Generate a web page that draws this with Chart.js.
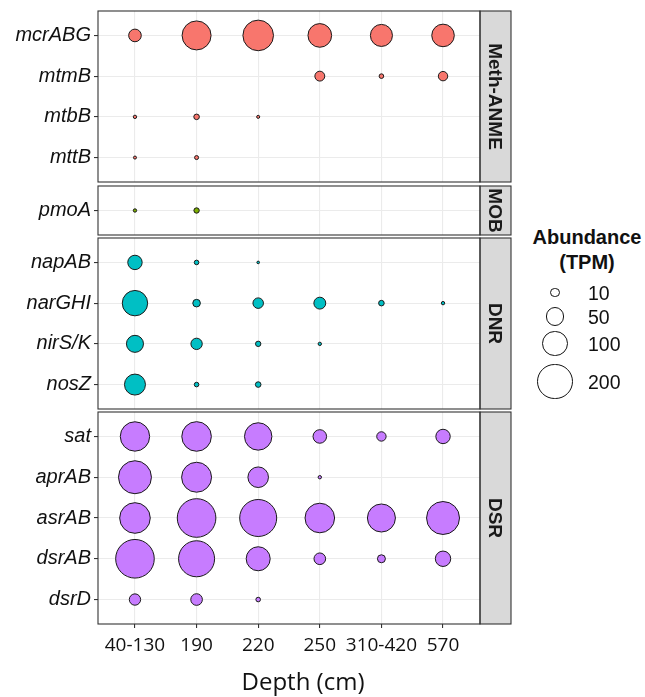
<!DOCTYPE html>
<html><head><meta charset="utf-8">
<script src="https://cdn.jsdelivr.net/npm/chart.js@4"></script>
<style>
html,body{margin:0;padding:0;background:#fff;}
#wrap{position:relative;width:645px;height:697px;overflow:hidden;background:#fff;}
#wrap canvas{position:absolute;left:0;}
.leg{position:absolute;font-family:'Liberation Sans',Arial,sans-serif;color:#111;white-space:nowrap;}
.key{position:absolute;box-sizing:border-box;border:1px solid #111;border-radius:50%;background:#fff;}
</style></head><body>
<div id="wrap">
<canvas id="c0"></canvas>
<canvas id="c1"></canvas>
<canvas id="c2"></canvas>
<canvas id="c3"></canvas>
</div>
<script>
// ---- data ----
const depths = ['40-130', '190', '220', '250', '310-420', '570'];
const groups = ['Meth-ANME', 'MOB', 'DNR', 'DSR'];
const methGenes = ['mcrABG', 'mtmB', 'mtbB', 'mttB'];
const methValues = [
  [23, 142, 159, 92, 79, 83],
  [null, null, null, 13, 1.7, 11.5],
  [0.6, 3, 0.4, null, null, null],
  [0.4, 1.1, null, null, null, null]
];
const mobGenes = ['pmoA'];
const mobValues = [
  [0.6, 2.7, null, null, null, null]
];
const dnrGenes = ['napAB', 'narGHI', 'nirS/K', 'nosZ'];
const dnrValues = [
  [31, 1.7, 0.2, null, null, null],
  [107, 6.8, 15, 20, 3, 0.6],
  [45, 18, 2.7, 0.6, null, null],
  [71, 1.7, 3, null, null, null]
];
const dsrGenes = ['sat', 'aprAB', 'asrAB', 'dsrAB', 'dsrD'];
const dsrValues = [
  [146, 148, 126, 27, 11.5, 31],
  [186, 152, 68, 0.6, null, null],
  [159, 259, 237, 148, 132, 186],
  [259, 224, 95, 19, 7.7, 36],
  [18, 19, 1.7, null, null, null]
];
const legendBreaks = [10, 50, 100, 200];
const xTitle = 'Depth (cm)';
const legendTitle = ['Abundance', '(TPM)'];

// ---- size scale (area-like) ----
function sizeR(v) { return 0.8 + 1.15 * Math.sqrt(v); }

const panels = [
  { genes: methGenes, values: methValues, color: '#F8766D', label: groups[0], top: 11, bottom: 182 },
  { genes: mobGenes, values: mobValues, color: '#7CAE00', label: groups[1], top: 186, bottom: 235 },
  { genes: dnrGenes, values: dnrValues, color: '#00BFC4', label: groups[2], top: 238, bottom: 409 },
  { genes: dsrGenes, values: dsrValues, color: '#C77CFF', label: groups[3], top: 412, bottom: 624 }
];

const CW = 514, STRIP = 31;

const facetPlugin = {
  id: 'facet',
  afterDraw(chart, args, opts) {
    const ctx = chart.ctx, a = chart.chartArea;
    ctx.save();
    ctx.fillStyle = '#D9D9D9';
    ctx.fillRect(a.right, a.top, STRIP, a.bottom - a.top);
    ctx.strokeStyle = '#333333';
    ctx.lineWidth = 1.1;
    ctx.strokeRect(a.right, a.top, STRIP, a.bottom - a.top);
    ctx.strokeRect(a.left, a.top, a.right - a.left, a.bottom - a.top);
    ctx.save();
    ctx.translate(a.right + STRIP / 2, (a.top + a.bottom) / 2);
    ctx.rotate(Math.PI / 2);
    ctx.font = "bold 19px 'Liberation Sans', Arial, sans-serif";
    ctx.fillStyle = '#1a1a1a';
    ctx.textAlign = 'center';
    ctx.textBaseline = 'middle';
    ctx.fillText(opts.label, 0, 1);
    ctx.restore();
    if (opts.title) {
      ctx.font = "24px 'Open Sans', sans-serif";
      ctx.fillStyle = '#111';
      ctx.textAlign = 'center';
      ctx.textBaseline = 'middle';
      ctx.fillText(opts.title, 303, 683 - opts.canvasTop);
    }
    ctx.restore();
  }
};

panels.forEach((p, idx) => {
  const isLast = idx === panels.length - 1;
  const canvas = document.getElementById('c' + idx);
  const padT = 2, padB = isLast ? 0 : 2, axisH = isLast ? 73 : 0;
  const H = (p.bottom - p.top) + padT + (isLast ? axisH : padB);
  const canvasTop = p.top - padT;
  canvas.width = CW; canvas.height = H;
  canvas.style.width = CW + 'px'; canvas.style.height = H + 'px';
  canvas.style.top = canvasTop + 'px';
  const pts = [];
  p.values.forEach((row, gi) => row.forEach((v, di) => {
    if (v != null) pts.push({ x: di, y: gi, r: sizeR(v), v: v });
  }));
  new Chart(canvas, {
    type: 'bubble',
    data: { datasets: [{ label: p.label, data: pts, backgroundColor: p.color, borderColor: '#1a1a1a', borderWidth: 1, hoverRadius: 0, clip: false }] },
    options: {
      responsive: false, animation: false, devicePixelRatio: 1, events: [],
      layout: { autoPadding: false, padding: { left: 0, right: CW - 480, top: padT, bottom: padB } },
      plugins: {
        legend: { display: false }, tooltip: { enabled: false },
        facet: { label: p.label, title: isLast ? xTitle : null, canvasTop: canvasTop }
      },
      scales: {
        x: {
          type: 'linear', min: -0.6, max: depths.length - 1 + 0.6,
          afterBuildTicks: s => { s.ticks = depths.map((_, i) => ({ value: i })); },
          afterFit: s => { s.height = axisH; s.paddingLeft = 0; s.paddingRight = 0; s.paddingTop = 0; s.paddingBottom = 0; },
          ticks: { display: isLast, autoSkip: false, maxRotation: 0, padding: 6,
            callback: v => depths[v], color: '#111',
            font: { family: "'Open Sans', sans-serif", size: 19 } },
          grid: { color: '#EBEBEB', lineWidth: 1.1, drawTicks: isLast, tickLength: 4, tickColor: '#333333', tickWidth: 1.1 },
          border: { display: false }
        },
        y: {
          type: 'linear', reverse: true, min: -0.6, max: p.genes.length - 1 + 0.6,
          afterBuildTicks: s => { s.ticks = p.genes.map((_, i) => ({ value: i })); },
          afterFit: s => { s.width = 98; s.paddingTop = 0; s.paddingBottom = 0; s.paddingLeft = 0; s.paddingRight = 0; },
          ticks: { autoSkip: false, padding: 3, callback: v => p.genes[v], color: '#111',
            font: { family: "'Liberation Sans', Arial, sans-serif", size: 20, style: 'italic' } },
          grid: { color: '#EBEBEB', lineWidth: 1.1, drawTicks: true, tickLength: 4, tickColor: '#333333', tickWidth: 1.1 },
          border: { display: false }
        }
      }
    },
    plugins: [facetPlugin]
  });
});

// ---- size legend ----
const wrap = document.getElementById('wrap');
const title = document.createElement('div');
title.className = 'leg';
title.style.cssText = 'left:527px;top:225px;width:120px;text-align:center;font-weight:bold;font-size:20px;line-height:24.5px;';
title.innerHTML = legendTitle.join('<br>');
wrap.appendChild(title);
const keyY = [292.5, 316.5, 343.5, 381.7];
legendBreaks.forEach((b, i) => {
  const r = sizeR(b) + 0.5;
  const k = document.createElement('div');
  k.className = 'key';
  k.style.left = (555 - r) + 'px'; k.style.top = (keyY[i] - r) + 'px';
  k.style.width = (2 * r) + 'px'; k.style.height = (2 * r) + 'px';
  wrap.appendChild(k);
  const t = document.createElement('div');
  t.className = 'leg';
  t.style.cssText = 'left:588px;font-size:19.5px;line-height:22px;top:' + (keyY[i] - 11) + 'px;';
  t.textContent = String(b);
  wrap.appendChild(t);
});
</script>
</body></html>
